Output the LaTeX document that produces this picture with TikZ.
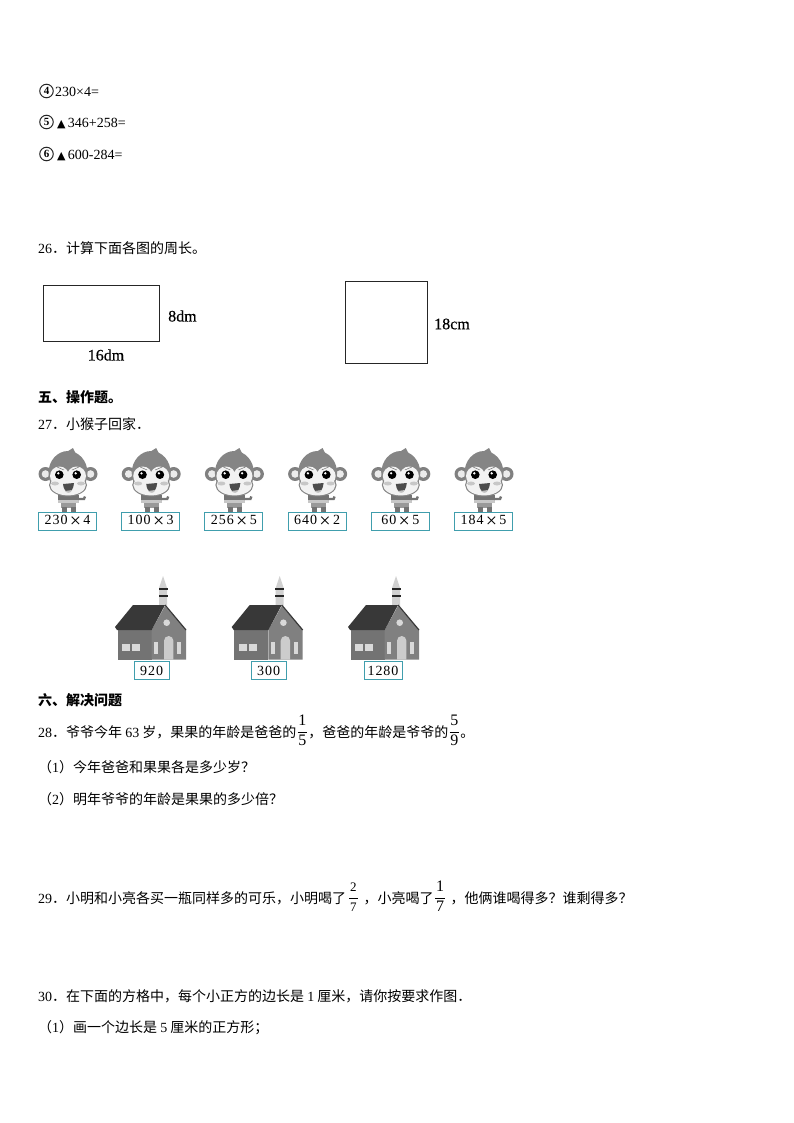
\documentclass[tikz,border=0pt]{standalone}
\usepackage{fontspec}
\setmainfont{Noto Sans CJK SC}
\newfontfamily\lat{Liberation Serif}
\newfontfamily\dimfont[FakeBold=0.4]{Liberation Serif}
\newfontfamily\labfont[LetterSpace=7]{Liberation Serif}
\newfontfamily\sym{DejaVu Sans}
\definecolor{boxteal}{rgb}{0.25,0.62,0.68}
% fraction: size, numerator, denominator
\newcommand{\fr}[3]{\raisebox{1.5pt}{$\displaystyle\frac{\mbox{\kern0.8pt\fontsize{#1}{#1}\selectfont\lat #2\kern0.8pt}}{\mbox{\kern0.8pt\fontsize{#1}{#1}\selectfont\lat #3\kern0.8pt}}$}}
\tikzset{
  line/.style={anchor=west, inner sep=0pt, font=\fontsize{14}{15}\selectfont},
  head/.style={line, font=\fontsize{14}{15}\selectfont\bfseries},
  num/.style={draw=black!85, circle, line width=1pt, inner sep=0pt, minimum size=13.5pt,
    font=\fontsize{11}{11}\selectfont\lat\bfseries},
  dim/.style={inner sep=0pt, font=\fontsize{16}{17}\selectfont\dimfont},
  labbox/.style={draw=boxteal, line width=0.9pt, inner sep=0pt, minimum height=17.5pt,
    font=\fontsize{14}{14}\selectfont\labfont},
  monkey/.pic={
    % ears
    \foreach \s in {-1,1} {
      \fill[black!50] (\s*22.5,1) circle (7pt);
      \fill[black!8] (\s*22.5,1) circle (3.8pt);
    }
    % body
    \fill[black!55] (-10,22) rectangle (11,30);
    \fill[black!22] (-10,27) rectangle (11,29.5);
    \fill[black!40] (-7,30) rectangle (8,35);
    \fill[black!55] (-6,34) rectangle (-1,39);
    \fill[black!55] (3,34) rectangle (8,39);
    \draw[black!55, line width=2.4pt] (10,26) -- (16,26) -- (17,23.5);
    % head
    \fill[black!48] (0,0) ellipse [x radius=19.5pt, y radius=22pt];
    \fill[black!48] (0,12) ellipse [x radius=19pt, y radius=11.5pt];
    \fill[black!48] (-3,-20) -- (5,-25) -- (10,-15) -- cycle;
    \fill[black!5] (-8.5,3) circle (9.5pt);
    \fill[black!5] (8.5,3) circle (9.5pt);
    \fill[black!5] (0,12) ellipse [x radius=17.8pt, y radius=10.4pt];
    % eyes, cheeks, mouth
    \foreach \s in {-1,1} {
      \fill[black] (\s*8.7,1.7) circle (4.3pt);
      \fill[white] (\s*8.7-1,0.3) circle (1.3pt);
      \fill[black!22] (\s*13,10.5) ellipse [x radius=4pt, y radius=2pt];
      \draw[black!55, line width=0.5pt] (\s*4,-3) -- (\s*11,-6);
    }
    \fill[black!70] (-5,11) .. controls (-4,22) and (5,22) .. (6,10) -- cycle;
    \fill[black!25] (-3,18) .. controls (-1,20.5) and (3,20.5) .. (4,17) -- cycle;
  },
  house/.pic={
    % tower
    \fill[black!18] (44,-22) -- (44,-40) -- (48,-52) -- (52,-40) -- (52,-22) -- cycle;
    \fill[black!85] (43.5,-40) rectangle (52.5,-38);
    \fill[black!85] (43.5,-33) rectangle (52.5,-31);
    % walls
    \fill[black!55] (2.7,0) rectangle (36.7,31.5);
    \fill[black!50] (36.7,2) -- (50,-22) -- (71,2) -- (71,31.5) -- (36.7,31.5) -- cycle;
    % roof
    \fill[black!78] (0,-1) -- (18,-23) -- (50,-23) -- (36.7,2) -- (2,2) -- cycle;
    \draw[black!78, line width=1.2pt] (50,-23) -- (71,2);
    % windows and door
    \fill[black!15] (51.7,-5.3) circle (3.3pt);
    \fill[black!15] (7.3,16.3) rectangle (15,23);
    \fill[black!15] (17.3,16.3) rectangle (25,23);
    \fill[black!15] (39,14) rectangle (43.3,26.3);
    \fill[black!15] (62.3,14) rectangle (66,26.3);
    \fill[black!20] (49,31.5) -- (49,12.7) arc[start angle=180, end angle=0, radius=4.7pt] -- (58.4,31.5) -- cycle;
  }
}
\begin{document}
\begin{tikzpicture}[x=1pt, y=-1pt]
\fill[white] (0,0) rectangle (794,1123);
\useasboundingbox (0,0) rectangle (794,1123);

\node[num] (numd) at (46.5,91) {4};
\node[line] (calcd) at (55,91.5) {\lat 230×4=};
\node[num] (nume) at (46.5,122) {5};
\node[line] (calce) at (57,123.5) {{\sym\fontsize{11}{12}\selectfont ▲}{\lat\,346+258=}};
\node[num] (numf) at (46.5,154) {6};
\node[line] (calcf) at (57,155.5) {{\sym\fontsize{11}{12}\selectfont ▲}{\lat\,600-284=}};
\node[line] (qa) at (38,248) {{\lat 26}．计算下面各图的周长。};

% perimeter figures
\node[draw=black!85, line width=1pt, minimum width=116pt, minimum height=56pt, inner sep=0pt] (rect) at (101.3,313.5) {};
\node[draw=black!85, line width=1pt, minimum width=82pt, minimum height=82pt, inner sep=0pt] (sq) at (386,322) {};
\node[dim, anchor=west] (recth) at (168,316) {8dm};
\node[dim] (rectw) at (106,355) {16dm};
\node[dim, anchor=west] (sqs) at (434,324) {18cm};

\node[head] (hfive) at (38,397) {五、操作题。};
\node[line] (qb) at (38,424) {{\lat 27}．小猴子回家．};

% monkeys with their sums
\foreach \x/\a/\b [count=\i] in {67.5/230/4, 150.7/100/3, 233.9/256/5, 317.1/640/2, 400.3/60/5, 483.5/184/5} {
  \pic at (\x+0.5,473) {monkey};
  \node[labbox, minimum width=58pt] (sum\i) at (\x,521.5) {\a\,\raisebox{-2.5pt}{\lat\fontsize{20}{20}\selectfont ×}\,\b};
}

% houses with their numbers
\foreach \x/\a/\w/\d [count=\i] in {115/920/35/36.7, 231.7/300/35/37, 348/1280/38/35} {
  \pic at (\x,628) {house};
  \node[labbox, minimum width=\w pt] (num\i) at (\x+\d,670.5) {\a};
}

\node[head] (hsix) at (38,700) {六、解决问题};
\node[line] (qc) at (38,730.5) {{\lat 28}．爷爷今年 {\lat 63} 岁，果果的年龄是爸爸的\fr{16}{1}{5}，爸爸的年龄是爷爷的\fr{16}{5}{9}。};
\node[line] (qca) at (38,767) {（{\lat 1}）今年爸爸和果果各是多少岁？};
\node[line] (qcb) at (38,799) {（{\lat 2}）明年爷爷的年龄是果果的多少倍？};
\node[line] (qd) at (38,896.5) {{\lat 29}．小明和小亮各买一瓶同样多的可乐，小明喝了\hspace{2pt}\fr{13}{2}{7}\hspace{5pt}，小亮喝了\hspace{0.5pt}\fr{16}{1}{7}\hspace{4.5pt}，他俩谁喝得多？谁剩得多？};
\node[line] (qe) at (38,996) {{\lat 30}．在下面的方格中，每个小正方的边长是 {\lat 1} 厘米，请你按要求作图．};
\node[line] (qea) at (38,1028) {（{\lat 1}）画一个边长是 {\lat 5} 厘米的正方形；};
\end{tikzpicture}
\end{document}
